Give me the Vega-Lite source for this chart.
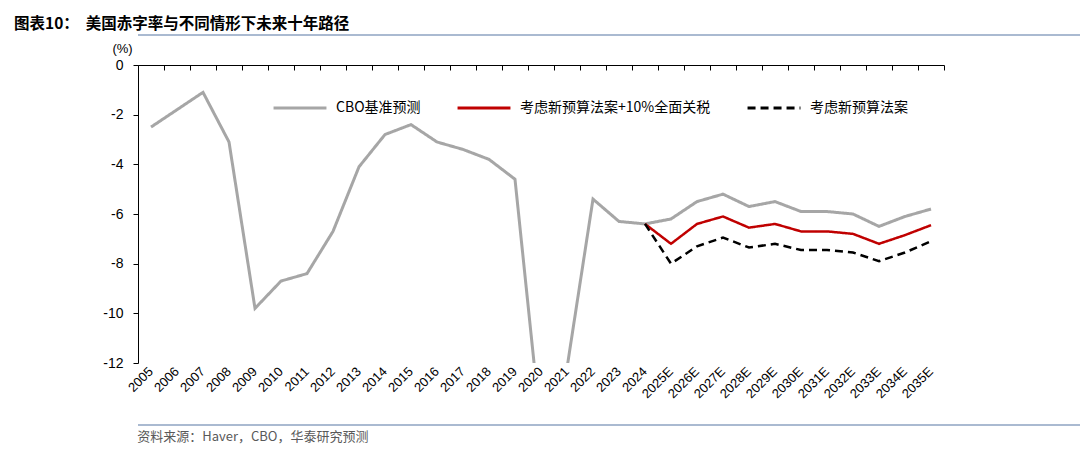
{
  "$schema": "https://vega.github.io/schema/vega-lite/v6.json",
  "padding": {"left": 14, "right": 14, "top": 16, "bottom": 4},
  "background": "white",
  "title": {"text": "图表10：\u00a0\u00a0美国赤字率与不同情形下未来十年路径", "anchor": "start", "fontSize": 15.5, "fontWeight": "bold", "font": "Noto Sans CJK SC", "color": "#000000", "offset": 2},
  "spacing": 0,
  "config": {"view": {"stroke": null}, "font": "Noto Sans CJK SC"},
  "datasets": {
    "line": [{"a": 0, "b": 1}],
    "d": [
      {"year": "2005", "series": "CBO基准预测", "value": -2.5},
      {"year": "2006", "series": "CBO基准预测", "value": -1.8},
      {"year": "2007", "series": "CBO基准预测", "value": -1.1},
      {"year": "2008", "series": "CBO基准预测", "value": -3.1},
      {"year": "2009", "series": "CBO基准预测", "value": -9.8},
      {"year": "2010", "series": "CBO基准预测", "value": -8.7},
      {"year": "2011", "series": "CBO基准预测", "value": -8.4},
      {"year": "2012", "series": "CBO基准预测", "value": -6.7},
      {"year": "2013", "series": "CBO基准预测", "value": -4.1},
      {"year": "2014", "series": "CBO基准预测", "value": -2.8},
      {"year": "2015", "series": "CBO基准预测", "value": -2.4},
      {"year": "2016", "series": "CBO基准预测", "value": -3.1},
      {"year": "2017", "series": "CBO基准预测", "value": -3.4},
      {"year": "2018", "series": "CBO基准预测", "value": -3.8},
      {"year": "2019", "series": "CBO基准预测", "value": -4.6},
      {"year": "2020", "series": "CBO基准预测", "value": -14.7},
      {"year": "2021", "series": "CBO基准预测", "value": -12.2},
      {"year": "2022", "series": "CBO基准预测", "value": -5.4},
      {"year": "2023", "series": "CBO基准预测", "value": -6.3},
      {"year": "2024", "series": "CBO基准预测", "value": -6.4},
      {"year": "2025E", "series": "CBO基准预测", "value": -6.2},
      {"year": "2026E", "series": "CBO基准预测", "value": -5.5},
      {"year": "2027E", "series": "CBO基准预测", "value": -5.2},
      {"year": "2028E", "series": "CBO基准预测", "value": -5.7},
      {"year": "2029E", "series": "CBO基准预测", "value": -5.5},
      {"year": "2030E", "series": "CBO基准预测", "value": -5.9},
      {"year": "2031E", "series": "CBO基准预测", "value": -5.9},
      {"year": "2032E", "series": "CBO基准预测", "value": -6.0},
      {"year": "2033E", "series": "CBO基准预测", "value": -6.5},
      {"year": "2034E", "series": "CBO基准预测", "value": -6.1},
      {"year": "2035E", "series": "CBO基准预测", "value": -5.8},
      {"year": "2024", "series": "考虑新预算法案+10%全面关税", "value": -6.4},
      {"year": "2025E", "series": "考虑新预算法案+10%全面关税", "value": -7.2},
      {"year": "2026E", "series": "考虑新预算法案+10%全面关税", "value": -6.4},
      {"year": "2027E", "series": "考虑新预算法案+10%全面关税", "value": -6.1},
      {"year": "2028E", "series": "考虑新预算法案+10%全面关税", "value": -6.55},
      {"year": "2029E", "series": "考虑新预算法案+10%全面关税", "value": -6.4},
      {"year": "2030E", "series": "考虑新预算法案+10%全面关税", "value": -6.7},
      {"year": "2031E", "series": "考虑新预算法案+10%全面关税", "value": -6.7},
      {"year": "2032E", "series": "考虑新预算法案+10%全面关税", "value": -6.8},
      {"year": "2033E", "series": "考虑新预算法案+10%全面关税", "value": -7.2},
      {"year": "2034E", "series": "考虑新预算法案+10%全面关税", "value": -6.85},
      {"year": "2035E", "series": "考虑新预算法案+10%全面关税", "value": -6.45},
      {"year": "2024", "series": "考虑新预算法案", "value": -6.4},
      {"year": "2025E", "series": "考虑新预算法案", "value": -8.0},
      {"year": "2026E", "series": "考虑新预算法案", "value": -7.3},
      {"year": "2027E", "series": "考虑新预算法案", "value": -6.95},
      {"year": "2028E", "series": "考虑新预算法案", "value": -7.35},
      {"year": "2029E", "series": "考虑新预算法案", "value": -7.2},
      {"year": "2030E", "series": "考虑新预算法案", "value": -7.45},
      {"year": "2031E", "series": "考虑新预算法案", "value": -7.45},
      {"year": "2032E", "series": "考虑新预算法案", "value": -7.55},
      {"year": "2033E", "series": "考虑新预算法案", "value": -7.9},
      {"year": "2034E", "series": "考虑新预算法案", "value": -7.55},
      {"year": "2035E", "series": "考虑新预算法案", "value": -7.1}
    ]
  },
  "vconcat": [
    {
      "width": 1052,
      "height": 7,
      "data": {"name": "line"},
      "mark": {"type": "rule", "color": "#8EA3C2", "strokeWidth": 1.5},
      "encoding": {
        "x": {"field": "a", "type": "quantitative", "scale": {"domain": [0, 1]}, "axis": null},
        "x2": {"field": "b"},
        "y": {"datum": 1, "type": "quantitative", "scale": {"domain": [0, 1]}, "axis": null}
      }
    },
    {
      "width": 806,
      "height": 298,
      "data": {"name": "d"},
      "resolve": {"axis": {"x": "independent"}},
      "layer": [
        {
          "transform": [{"filter": "datum.series === 'CBO基准预测'"}],
          "mark": {"type": "line", "strokeWidth": 3, "clip": true},
          "encoding": {
            "x": {"field": "year", "type": "ordinal", "sort": null, "scale": {"paddingInner": 0, "paddingOuter": 0},
              "axis": {"orient": "bottom", "title": null, "labelAngle": -45, "labelAlign": "right", "labelBaseline": "middle", "domain": false, "ticks": false, "labelPadding": 6, "labelFontSize": 13, "labelFont": "Liberation Sans", "labelColor": "#000000", "grid": false}},
            "y": {"field": "value", "type": "quantitative", "scale": {"domain": [-12, 0], "nice": false},
              "axis": {"values": [0, -2, -4, -6, -8, -10, -12], "labelExpr": "datum.value === 0 ? '0' : '-' + abs(datum.value)", "title": "(%)", "titleAngle": 0, "titleX": -16, "titleY": -17, "titleAlign": "center", "titleBaseline": "middle", "titleFontSize": 13, "titleFont": "Liberation Sans", "titleFontWeight": "normal", "titleColor": "#000000", "grid": false, "domainColor": "#000000", "tickColor": "#000000", "tickSize": 5, "labelFontSize": 14, "labelFont": "Liberation Sans", "labelColor": "#000000", "labelPadding": 10, "minExtent": 124}},
            "color": {"field": "series", "type": "nominal", "scale": {"domain": ["CBO基准预测", "考虑新预算法案+10%全面关税", "考虑新预算法案"], "range": ["#A6A6A6", "#C00000", "#000000"]},
              "legend": {"orient": "none", "legendX": 134, "legendY": 45, "direction": "horizontal", "title": null, "symbolType": "stroke", "symbolSize": 2800, "symbolStrokeWidth": 3, "labelFontSize": 14, "labelFont": "Noto Sans CJK SC", "labelColor": "#000000", "labelLimit": 400, "columnPadding": 30, "labelOffset": 8}},
            "strokeDash": {"field": "series", "type": "nominal", "scale": {"domain": ["CBO基准预测", "考虑新预算法案+10%全面关税", "考虑新预算法案"], "range": [[1, 0], [1, 0], [8, 5]]},
              "legend": {"orient": "none", "legendX": 134, "legendY": 45, "direction": "horizontal", "title": null, "symbolType": "stroke", "symbolSize": 2800, "symbolStrokeWidth": 3, "labelFontSize": 14, "labelFont": "Noto Sans CJK SC", "labelColor": "#000000", "labelLimit": 400, "columnPadding": 30, "labelOffset": 8}}
          }
        },
        {
          "transform": [{"filter": "datum.series === '考虑新预算法案+10%全面关税'"}],
          "mark": {"type": "line", "strokeWidth": 2.5, "clip": true},
          "encoding": {
            "x": {"field": "year", "type": "ordinal", "sort": null, "scale": {"paddingInner": 0, "paddingOuter": 0},
              "axis": {"orient": "top", "title": null, "labels": false, "ticks": true, "tickSize": -5, "tickBand": "extent", "domain": true, "domainColor": "#000000", "tickColor": "#000000", "grid": false}},
            "y": {"field": "value", "type": "quantitative"},
            "color": {"field": "series", "type": "nominal"},
            "strokeDash": {"field": "series", "type": "nominal"}
          }
        },
        {
          "transform": [{"filter": "datum.series === '考虑新预算法案'"}],
          "mark": {"type": "line", "strokeWidth": 2.5, "clip": true},
          "encoding": {
            "x": {"field": "year", "type": "ordinal", "sort": null, "axis": null},
            "y": {"field": "value", "type": "quantitative"},
            "color": {"field": "series", "type": "nominal"},
            "strokeDash": {"field": "series", "type": "nominal"}
          }
        }
      ]
    },
    {
      "width": 1052,
      "height": 24,
      "data": {"name": "line"},
      "mark": {"type": "rule", "color": "#8EA3C2", "strokeWidth": 1.5},
      "encoding": {
        "x": {"field": "a", "type": "quantitative", "scale": {"domain": [0, 1]}, "axis": null},
        "x2": {"field": "b"},
        "y": {"datum": 0, "type": "quantitative", "scale": {"domain": [0, 1]}, "axis": null}
      },
      "title": {"text": "资料来源：Haver，CBO，华泰研究预测", "orient": "bottom", "anchor": "start", "fontSize": 13, "fontWeight": "normal", "font": "Noto Sans CJK SC", "color": "#595959", "offset": 5}
    }
  ]
}
